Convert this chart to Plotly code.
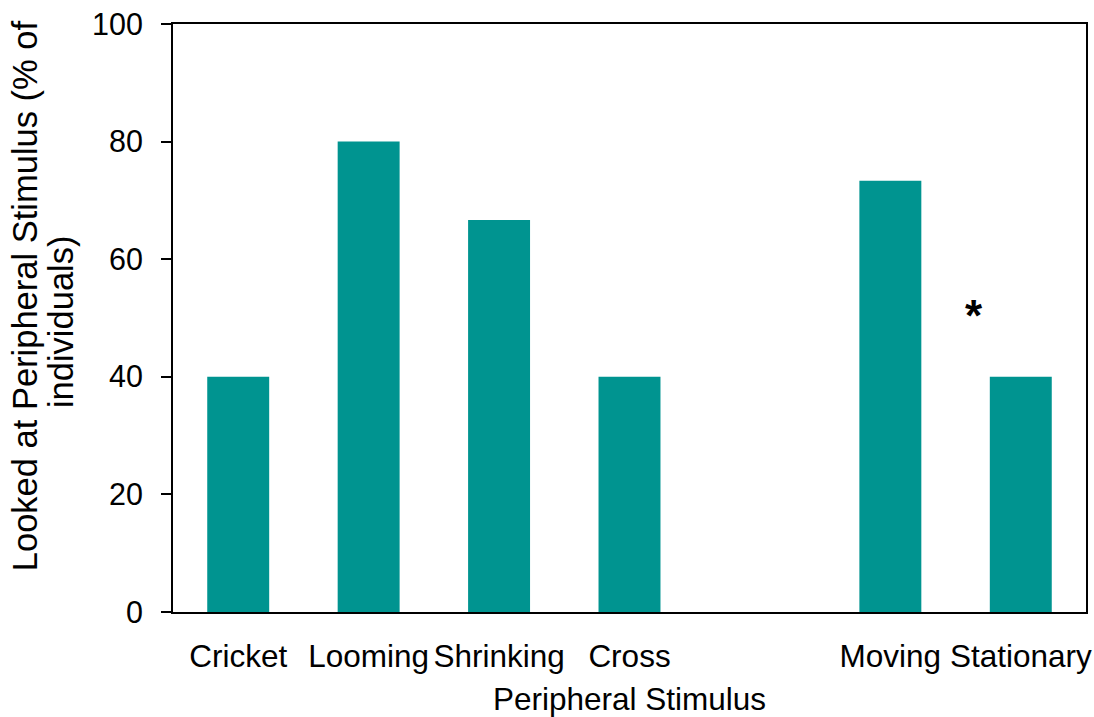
import plotly.graph_objects as go

categories = ["Cricket", "Looming", "Shrinking", "Cross", "", "Moving", "Stationary"]
positions = [0, 1, 2, 3, 4, 5, 6]
values = [40, 80, 66.67, 40, None, 73.33, 40]
y_ticks = [0, 20, 40, 60, 80, 100]
y_title_lines = ["Looked at Peripheral Stimulus (% of", "individuals)"]
star_x = 5.64
star_y = 50.5

FONT = "Liberation Sans, Arial, sans-serif"

fig = go.Figure()
fig.add_trace(go.Bar(x=positions, y=values, marker=dict(color="#009490", line=dict(width=0)),
                     width=0.475, showlegend=False))

fig.add_annotation(x=star_x, y=star_y, text="<b>*</b>", showarrow=False,
                   font=dict(size=44, color="black", family=FONT), xref="x", yref="y")

# two-line y-axis title
for txt, xs, yp in zip(y_title_lines, [-148, -112], [0.537, 0.493]):
    fig.add_annotation(x=0, y=yp, xref="paper", yref="paper", xshift=xs,
                       text=txt, textangle=-90, showarrow=False,
                       xanchor="center", yanchor="middle",
                       font=dict(size=34.5, color="black", family=FONT))

fig.update_layout(
    width=1094, height=717,
    margin=dict(l=173, r=8, t=24, b=105),
    plot_bgcolor="white", paper_bgcolor="white",
    font=dict(family=FONT, size=30, color="black"),
    xaxis=dict(range=[-0.5, 6.5], tickmode="array", tickvals=positions, ticktext=categories,
               showline=True, linecolor="black", linewidth=2, mirror=True,
               ticks="", showgrid=False, zeroline=False, automargin=False,
               ticklabelstandoff=15, ticklabeloverflow="allow",
               title=dict(text="Peripheral Stimulus", standoff=16, font=dict(size=31.5)),
               tickfont=dict(size=31.5)),
    yaxis=dict(range=[0, 100], tickmode="array", tickvals=y_ticks,
               showline=True, linecolor="black", linewidth=2, mirror=True,
               ticks="outside", ticklen=10, tickwidth=2, tickcolor="black",
               showgrid=False, zeroline=False, automargin=False,
               ticklabelstandoff=12, ticklabeloverflow="allow",
               tickfont=dict(size=30.5)),
)

fig.write_html("out.html", config={"displayModeBar": False},
               post_script="document.body.style.margin='0';document.body.style.overflow='hidden';")
